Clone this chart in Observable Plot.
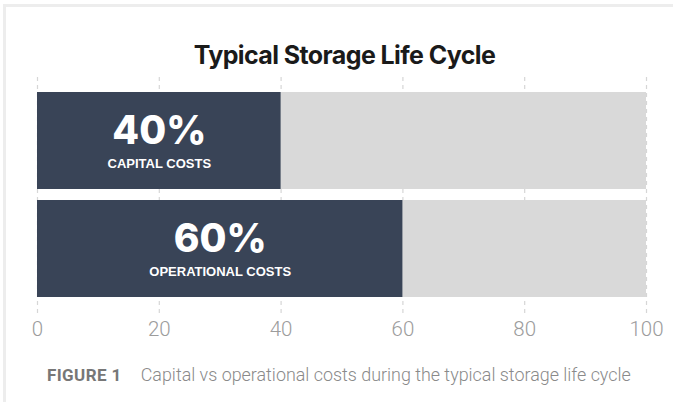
<!DOCTYPE html>
<html>
<head>
<meta charset="utf-8">
<script src="https://cdn.jsdelivr.net/npm/d3@7"></script>
<script src="https://cdn.jsdelivr.net/npm/@observablehq/plot@0.6"></script>
<style>
  html, body { margin: 0; padding: 0; background: #fff; }
  body { width: 673px; height: 402px; overflow: hidden; position: relative; }
  #card {
    position: absolute; left: 3px; top: 4px; width: 670px; height: 398px;
    border-top: 3px solid #ededed; border-left: 3px solid #ededed; box-sizing: border-box;
  }
  #title {
    position: absolute; left: 0; top: 41px; width: 689px; text-align: center;
    font-family: Inter, "Noto Sans", sans-serif; font-weight: 700; font-size: 25px;
    letter-spacing: -0.6px; color: #1a1a1a; line-height: 28px;
  }
  #chart { position: absolute; left: 0; top: 70px; }
  #caption {
    position: absolute; left: 47px; top: 364px; white-space: nowrap;
    font-family: Roboto, sans-serif; font-size: 17.9px; color: #8a8a8a; font-weight: 300; line-height: 22px;
  }
  #caption b { font-weight: 700; color: #777; font-size: 17px; letter-spacing: 0.4px; margin-right: 19px; }
</style>
</head>
<body>
<div id="card"></div>
<div id="title">Typical Storage Life Cycle</div>
<div id="chart"></div>
<div id="caption"><b>FIGURE 1</b>Capital vs operational costs during the typical storage life cycle</div>
<script>
const categories = ["Capital costs", "Operational costs"];
const shares = [40, 60];
const barLabels = ["CAPITAL COSTS", "OPERATIONAL COSTS"];
const totals = [100, 100];
const xTicks = [0, 20, 40, 60, 80, 100];

const rows = categories.map((c, i) => ({cat: c, share: shares[i], total: totals[i], label: barLabels[i]}));

const chart = Plot.plot({
  width: 673,
  height: 275,
  marginTop: 7,
  marginBottom: 30,
  marginLeft: 37,
  marginRight: 27,
  style: {fontFamily: "Roboto, sans-serif", fontSize: "20.5px", color: "#9c9c9c", fontWeight: 300, background: "transparent"},
  x: {domain: [0, 100], ticks: xTicks, tickSize: 0, tickPadding: 6, label: null},
  y: {domain: categories, axis: null, paddingInner: 0.1, paddingOuter: 0, insetTop: 14, insetBottom: 17},
  marks: [
    Plot.ruleX(xTicks, {stroke: "#d6d6d6", strokeWidth: 1.2, strokeDasharray: "4,4"}),
    Plot.barX(rows, {x: "total", y: "cat", fill: "#d9d9d9"}),
    Plot.barX(rows, {x: "share", y: "cat", fill: "#394457"}),
    Plot.text(rows, {x: d => d.share / 2, y: "cat", text: d => d.share + "%", dy: -9, fill: "white",
      fontSize: 39, fontWeight: 800, fontFamily: "Inter, sans-serif"}),
    Plot.text(rows, {x: d => d.share / 2, y: "cat", text: "label", dy: 23, fill: "white",
      fontSize: 13, fontWeight: 700, fontFamily: "'Liberation Sans', Arial, sans-serif"})
  ]
});
document.getElementById("chart").appendChild(chart);
</script>
</body>
</html>
